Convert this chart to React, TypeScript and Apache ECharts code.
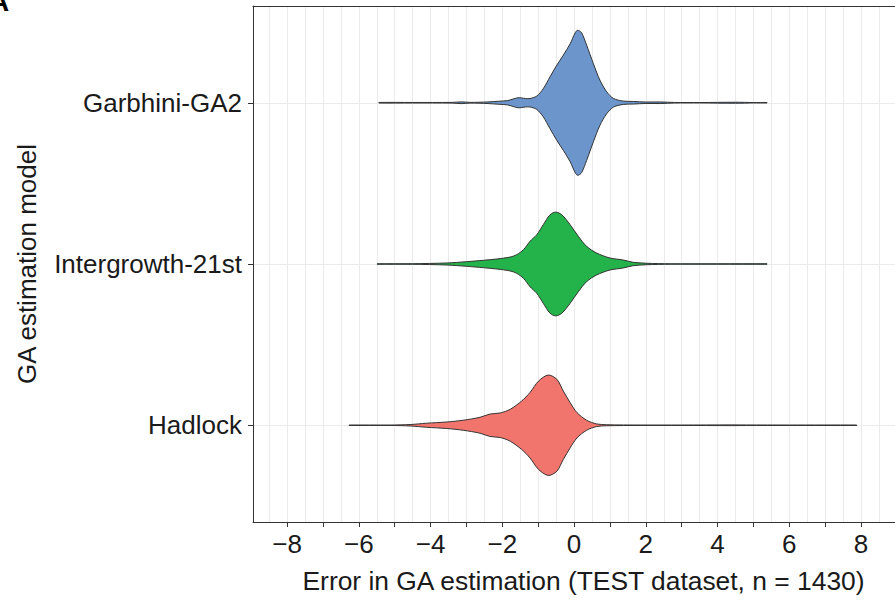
import React, { useEffect, useRef } from "react";
import * as echarts from "echarts";

const CATEGORIES = ["Garbhini-GA2", "Intergrowth-21st", "Hadlock"];
const COLORS = ["#6b95cb", "#24b24b", "#f1756d"];

// error values (x) and relative density (% of the largest density across all violins)
const GARBHINI_X = [-5.44, -4.5, -3.4, -3.13, -2.9, -2.4, -2.1, -1.85, -1.56, -1.35, -1.23, -1.04, -0.86, -0.67, -0.48, -0.3, -0.11, 0.03, 0.1, 0.21, 0.35, 0.54, 0.72, 0.91, 1.1, 1.37, 1.65, 2.0, 2.4, 2.8, 3.5, 4.5, 5.0, 5.38];
const GARBHINI_DENS = [0.4, 0.4, 0.5, 1.2, 0.5, 1.1, 2.1, 3.0, 6.9, 5.8, 5.8, 9.2, 19.3, 35.8, 51.9, 65.6, 81.2, 96.3, 100, 96.3, 79.4, 53.6, 31.2, 15.1, 5.9, 2.3, 1.8, 1.0, 1.1, 0.4, 0.3, 0.7, 0.3, 0.3];

const INTERGROWTH_X = [-5.49, -4.5, -3.55, -2.99, -2.53, -2.15, -1.78, -1.6, -1.41, -1.23, -1.04, -0.86, -0.67, -0.51, -0.34, -0.11, 0.12, 0.35, 0.63, 1.0, 1.37, 1.65, 2.03, 2.68, 4.0, 5.38];
const INTERGROWTH_DENS = [0.3, 0.4, 1.4, 3.2, 5.1, 6.9, 9.6, 12.8, 19.7, 31.2, 40.3, 54.1, 67.8, 71.5, 67.8, 54.1, 38.1, 24.3, 15.1, 8.3, 5.5, 2.3, 1.0, 0.3, 0.3, 0.3];

const HADLOCK_X = [-6.27, -5.13, -4.57, -4.11, -3.55, -3.09, -2.62, -2.34, -2.06, -1.78, -1.46, -1.23, -0.99, -0.72, -0.48, -0.3, -0.11, 0.08, 0.35, 0.63, 0.91, 1.84, 3.0, 4.4, 4.8, 6.0, 7.88];
const HADLOCK_DENS = [0.3, 0.3, 1.0, 2.8, 4.5, 6.9, 11.0, 15.5, 16.9, 22.0, 33.4, 45.0, 60.9, 69.2, 63.3, 47.2, 31.2, 17.5, 6.9, 1.8, 0.7, 0.3, 0.3, 0.5, 0.4, 0.3, 0.3];

const X_TICKS = [-8, -7, -6, -5, -4, -3, -2, -1, 0, 1, 2, 3, 4, 5, 6, 7, 8];
const X_LABELS = [-8, -6, -4, -2, 0, 2, 4, 6, 8];
const X_GRID = [-8.5, -8, -7.5, -7, -6.5, -6, -5.5, -5, -4.5, -4, -3.5, -3, -2.5, -2, -1.5, -1, -0.5, 0, 0.5, 1, 1.5, 2, 2.5, 3, 3.5, 4, 4.5, 5, 5.5, 6, 6.5, 7, 7.5, 8, 8.5];

const VIOLINS = [
  { x: GARBHINI_X, d: GARBHINI_DENS },
  { x: INTERGROWTH_X, d: INTERGROWTH_DENS },
  { x: HADLOCK_X, d: HADLOCK_DENS },
];

const FONT = "Liberation Sans, Arial, Helvetica, sans-serif";
const TEXT = "#1a1a1a";
const BORDER = "#333333";
const HALF_MAX = 0.45;

export default function App() {
  const ref = useRef<HTMLDivElement>(null);
  useEffect(() => {
    if (!ref.current) return;
    const chart = echarts.init(ref.current, null, { renderer: "svg" });
    const xCommon = {
      type: "value",
      min: -8.95,
      max: 8.946,
      gridIndex: 0,
    };
    chart.setOption({
      animation: false,
      backgroundColor: "#ffffff",
      textStyle: { fontFamily: FONT },
      grid: {
        left: 253,
        top: 6,
        width: 642,
        height: 516,
        show: false,
        containLabel: false,
      },
      graphic: [
        {
          type: "text",
          left: -11,
          top: -13,
          style: { text: "A", font: "bold 28px " + FONT, fill: "#000" },
        },
      ],
      xAxis: [
        {
          ...xCommon,
          position: "bottom",
          axisLine: { show: true, onZero: false, lineStyle: { color: BORDER, width: 1 } },
          axisTick: {
            show: true,
            length: 5,
            customValues: X_TICKS,
            lineStyle: { color: BORDER, width: 1 },
          },
          axisLabel: {
            show: true,
            customValues: X_LABELS,
            margin: 9,
            fontSize: 26,
            color: TEXT,
            fontFamily: FONT,
            formatter: (v: number) => String(v).replace("-", "\u2212"),
          },
          splitLine: { show: false },
          name: "Error in GA estimation (TEST dataset, n = 1430)",
          nameLocation: "middle",
          nameGap: 46,
          nameTextStyle: { fontSize: 26.4, color: TEXT, fontFamily: FONT, padding: [0, 0, 0, 19] },
        },
        {
          ...xCommon,
          position: "bottom",
          axisLine: { show: false },
          axisTick: { show: false, customValues: X_GRID },
          axisLabel: { show: false, customValues: X_GRID },
          splitLine: { show: true, lineStyle: { color: "#ebebeb", width: 1 } },
        },
        {
          ...xCommon,
          position: "top",
          axisLine: { show: true, onZero: false, lineStyle: { color: BORDER, width: 1 } },
          axisTick: { show: false },
          axisLabel: { show: false },
          splitLine: { show: false },
        },
      ],
      yAxis: [
        {
          type: "value",
          min: 0.4,
          max: 3.6,
          inverse: true,
          axisLine: { show: true, onZero: false, lineStyle: { color: BORDER, width: 1 } },
          axisTick: {
            show: true,
            length: 5,
            customValues: [1, 2, 3],
            lineStyle: { color: BORDER, width: 1 },
          },
          axisLabel: {
            show: true,
            customValues: [1, 2, 3],
            margin: 11,
            fontSize: 26,
            color: TEXT,
            fontFamily: FONT,
            formatter: (v: number) => CATEGORIES[Math.round(v) - 1] ?? "",
          },
          splitLine: { show: true, lineStyle: { color: "#ebebeb", width: 1 } },
          name: "GA estimation model",
          nameLocation: "middle",
          nameGap: 213,
          nameTextStyle: { fontSize: 26, color: TEXT, fontFamily: FONT },
        },
      ],
      series: [
        {
          type: "custom",
          xAxisIndex: 0,
          yAxisIndex: 0,
          data: CATEGORIES.map((_, i) => [i]),
          renderItem: (params: any, api: any) => {
            const idx = api.value(0);
            const v = VIOLINS[idx];
            const center = idx + 1;
            const top: number[][] = [];
            const bottom: number[][] = [];
            for (let i = 0; i < v.x.length; i++) {
              const half = (v.d[i] / 100) * HALF_MAX;
              top.push(api.coord([v.x[i], center - half]));
              bottom.push(api.coord([v.x[i], center + half]));
            }
            const points = top.concat(bottom.reverse());
            return {
              type: "polygon",
              shape: { points, smooth: 0.3 },
              style: { fill: COLORS[idx], stroke: BORDER, lineWidth: 1 },
            };
          },
          z: 10,
        },
      ],
    });
    return () => chart.dispose();
  }, []);
  return (
    <div
      ref={ref}
      style={{ position: "absolute", left: 0, top: 0, width: 895, height: 605 }}
    />
  );
}
